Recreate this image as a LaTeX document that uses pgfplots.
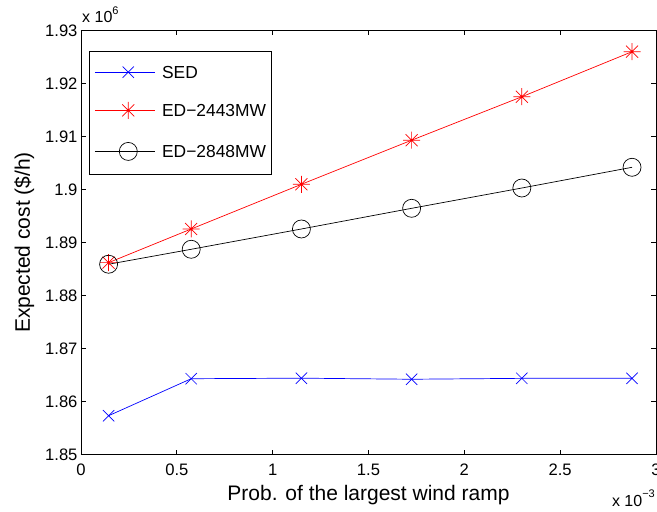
\documentclass[border=0pt]{standalone}
\usepackage{fontspec}
\setmainfont{Liberation Sans}
\usepackage{pgfplots}
\pgfplotsset{compat=1.18}
\usetikzlibrary{plotmarks}
\pgfdeclareplotmark{mstar}{%
  \pgfpathmoveto{\pgfqpoint{-\pgfplotmarksize}{0pt}}\pgfpathlineto{\pgfqpoint{\pgfplotmarksize}{0pt}}%
  \pgfpathmoveto{\pgfqpoint{0pt}{-\pgfplotmarksize}}\pgfpathlineto{\pgfqpoint{0pt}{\pgfplotmarksize}}%
  \pgfpathmoveto{\pgfqpointpolar{45}{\pgfplotmarksize}}\pgfpathlineto{\pgfqpointpolar{225}{\pgfplotmarksize}}%
  \pgfpathmoveto{\pgfqpointpolar{135}{\pgfplotmarksize}}\pgfpathlineto{\pgfqpointpolar{315}{\pgfplotmarksize}}%
  \pgfusepathqstroke}
\begin{document}
\begin{tikzpicture}
\begin{axis}[
  scale only axis,
  width=575pt, height=424pt,
  xmin=0, xmax=3, ymin=1.85, ymax=1.93,
  xtick={0,0.5,1,1.5,2,2.5,3},
  xticklabels={0,0.5,1,1.5,2,2.5,3},
  ytick={1.85,1.86,1.87,1.88,1.89,1.9,1.91,1.92,1.93},
  yticklabels={1.85,1.86,1.87,1.88,1.89,1.9,1.91,1.92,1.93},
  scaled ticks=false,
  tick align=inside,
  major tick length=5pt,
  tick style={black, line width=0.8pt},
  axis line style={line width=0.9pt},
  clip=false,
  ticklabel style={font=\fontsize{16.6}{18}\selectfont},
  xticklabel style={yshift=-6pt},
  /pgf/number format/assume math mode=true,
  xlabel={Prob. of the largest wind ramp},
  ylabel={Expected cost (\$/h)},
  label style={font=\fontsize{21}{23}\selectfont},
  xlabel style={at={(axis description cs:0.5,-0.1073)}, anchor=base},
  ylabel style={at={(axis description cs:-0.0887,0.5)}, anchor=base},
  legend style={
    at={(rel axis cs:0.0139,0.9517)}, anchor=north west,
    font=\fontsize{17.4}{18}\selectfont,
    draw=black, line width=0.9pt,
    inner xsep=5pt, inner ysep=14.5pt,
    row sep=23.5pt, column sep=7pt,
    nodes={inner sep=0pt, text height=12.5pt, text depth=0pt, line width=0.7pt},
  },
  legend cell align=left,
  legend image code/.code={%
    \path (0pt,0pt) -- (7pt,0pt);
    \draw[mark repeat=2,mark phase=2] plot coordinates {(7pt,0pt) (33.5pt,0pt) (60pt,0pt)};
  },
]
\addplot[blue, line width=0.7pt, mark=x, mark size=8pt] coordinates {
  (0.144,1.85732) (0.575,1.86430) (1.15,1.86440) (1.725,1.86420) (2.3,1.86437) (2.875,1.86437)
};
\addlegendentry{SED}
\addplot[red, line width=0.7pt, mark=mstar, mark size=8.5pt] coordinates {
  (0.144,1.88620) (0.575,1.89255) (1.15,1.90098) (1.725,1.90930) (2.3,1.91750) (2.875,1.92600)
};
\addlegendentry{ED−2443MW}
\addplot[black, line width=0.7pt, mark=o, mark size=9pt] coordinates {
  (0.144,1.88590) (0.575,1.88872) (1.15,1.89255) (1.725,1.89645) (2.3,1.90028) (2.875,1.90419)
};
\addlegendentry{ED−2848MW}
\node[anchor=base west, inner sep=0pt, font=\fontsize{16}{18}\selectfont] at ([shift={(1pt,7.5pt)}]rel axis cs:0,1) {x 10\raisebox{0.55em}{\fontsize{11}{12}\selectfont 6}};
\node[anchor=base east, inner sep=0pt, font=\fontsize{16}{18}\selectfont] at ([shift={(-1pt,-52.2pt)}]rel axis cs:1,0) {x 10\raisebox{0.55em}{\fontsize{11}{12}\selectfont −3}};
\end{axis}
\pgfresetboundingbox
\path ([shift={(-81pt,-56.5pt)}]current axis.south west) rectangle ([shift={(1pt,30.5pt)}]current axis.north east);
\end{tikzpicture}
\end{document}
